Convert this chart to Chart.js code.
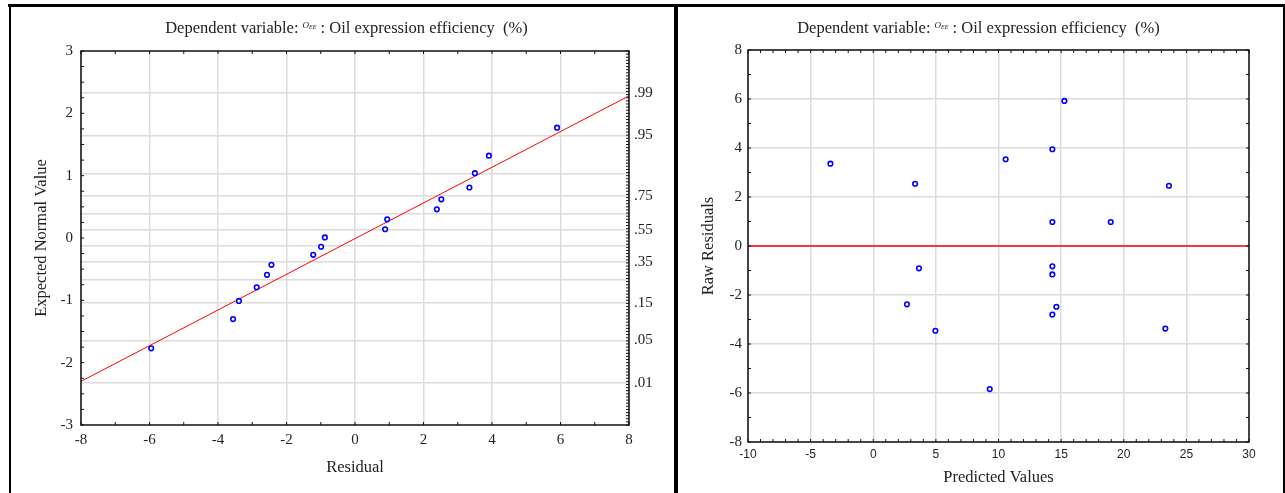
<!DOCTYPE html>
<html>
<head>
<meta charset="utf-8">
<script src="https://cdn.jsdelivr.net/npm/chart.js@4/dist/chart.umd.min.js"></script>
<style>
  body { margin: 0; background: #fff; width: 1285px; height: 493px; overflow: hidden; position: relative; }
  canvas { position: absolute; top: 0; }
  #normalChart { left: 0; }
  #residChart { left: 678px; }
  .rule { position: absolute; background: #000; }
  .title {
    position: absolute; top: 19px; height: 18px; line-height: 18px;
    font-family: 'Liberation Serif', serif; font-size: 16.5px; color: #222;
    text-align: center; white-space: nowrap;
  }
  .sym { font-size: 9px; font-style: italic; position: relative; top: -5px; }
  .sym sub { font-size: 6px; vertical-align: -1px; }
</style>
</head>
<body>
<div class="rule" style="left:8px;top:4px;width:1277px;height:3px"></div>
<div class="rule" style="left:9px;top:4px;width:2px;height:489px"></div>
<div class="rule" style="left:674px;top:4px;width:4px;height:489px"></div>
<div class="rule" style="left:1283px;top:4px;width:2px;height:489px"></div>

<canvas id="normalChart" width="678" height="493"></canvas>
<canvas id="residChart" width="607" height="493"></canvas>

<div class="title" style="left:15px;width:663px">Dependent variable: <span class="sym">O<sub>EE</sub></span> : Oil expression efficiency&nbsp; (%)</div>
<div class="title" style="left:676px;width:605px">Dependent variable: <span class="sym">O<sub>EE</sub></span> : Oil expression efficiency&nbsp; (%)</div>

<script>
// normal probability plot of residuals
const residuals = [-5.95, -3.56, -3.39, -2.87, -2.57, -2.44, -1.22, -0.99, -0.88, 0.88, 0.94, 2.39, 2.52, 3.34, 3.50, 3.91, 5.90];
const expectedNormal = [-1.77, -1.30, -1.01, -0.79, -0.59, -0.43, -0.27, -0.14, 0.01, 0.14, 0.30, 0.46, 0.62, 0.81, 1.04, 1.32, 1.77];
const fitLineX = [-8, 8];
const fitLineY = [-2.30, 2.28];

// probability axis on the right side
const probGrid = [0.01, 0.05, 0.15, 0.25, 0.35, 0.45, 0.55, 0.65, 0.75, 0.85, 0.95, 0.99];
const probLabels = ['.01', '.05', '.15', '.35', '.55', '.75', '.95', '.99'];

// raw residuals vs predicted
const predicted = [-3.42, 3.34, 10.57, 14.30, 15.26, 14.30, 18.96, 23.61, 3.65, 2.69, 4.96, 14.30, 14.30, 14.62, 14.30, 23.32, 9.30];
const rawResiduals = [3.36, 2.54, 3.54, 3.95, 5.92, 0.98, 0.98, 2.46, -0.91, -2.38, -3.46, -0.83, -1.16, -2.48, -2.80, -3.37, -5.84];
const zeroLineX = [-10, 30];

Chart.defaults.font.family = "'Liberation Serif', serif";
Chart.defaults.font.size = 15;
Chart.defaults.color = '#222';
Chart.defaults.animation = false;

// inverse standard normal cdf (Acklam)
function probit(p) {
  const a = [-39.6968302866538, 220.946098424521, -275.928510446969, 138.357751867269, -30.6647980661472, 2.50662827745924];
  const b = [-54.4760987982241, 161.585836858041, -155.698979859887, 66.8013118877197, -13.2806815528857];
  const c = [-0.00778489400243029, -0.322396458041136, -2.40075827716184, -2.54973253934373, 4.37466414146497, 2.93816398269878];
  const d = [0.00778469570904146, 0.32246712907004, 2.445134137143, 3.75440866190742];
  const lo = 0.02425;
  let q, r;
  if (p < lo) {
    q = Math.sqrt(-2 * Math.log(p));
    return (((((c[0]*q+c[1])*q+c[2])*q+c[3])*q+c[4])*q+c[5]) / ((((d[0]*q+d[1])*q+d[2])*q+d[3])*q+1);
  }
  if (p > 1 - lo) {
    q = Math.sqrt(-2 * Math.log(1 - p));
    return -(((((c[0]*q+c[1])*q+c[2])*q+c[3])*q+c[4])*q+c[5]) / ((((d[0]*q+d[1])*q+d[2])*q+d[3])*q+1);
  }
  q = p - 0.5;
  r = q * q;
  return (((((a[0]*r+a[1])*r+a[2])*r+a[3])*r+a[4])*r+a[5])*q / (((((b[0]*r+b[1])*r+b[2])*r+b[3])*r+b[4])*r+1);
}

function probText(p) {
  return '.' + String(Math.round(p * 100)).padStart(2, '0');
}

// plot frame plus small inward tick marks
const framePlugin = {
  id: 'frame',
  afterDatasetsDraw(chart, args, opts) {
    const { ctx, chartArea: a } = chart;
    ctx.save();
    ctx.strokeStyle = '#111';
    ctx.lineWidth = 1;
    ctx.beginPath();
    (opts.marks || []).forEach(m => {
      const scale = chart.scales[m.scale];
      const n = Math.round((m.to - m.from) / m.step);
      for (let i = 0; i <= n; i++) {
        const p = scale.getPixelForValue(m.from + i * m.step);
        if (m.side === 'left') { ctx.moveTo(a.left, p); ctx.lineTo(a.left + m.len, p); }
        if (m.side === 'right') { ctx.moveTo(a.right, p); ctx.lineTo(a.right - m.len, p); }
        if (m.side === 'top') { ctx.moveTo(p, a.top); ctx.lineTo(p, a.top + m.len); }
        if (m.side === 'bottom') { ctx.moveTo(p, a.bottom); ctx.lineTo(p, a.bottom - m.len); }
      }
    });
    ctx.stroke();
    ctx.lineWidth = 1.5;
    ctx.strokeRect(a.left, a.top, a.right - a.left, a.bottom - a.top);
    ctx.restore();
  }
};

const gridStyle = { color: '#dcdcdc', lineWidth: 1.5, drawTicks: false };
const axisTitleFont = { size: 16.5 };
const pointStyle = {
  pointRadius: 2.3, pointBorderWidth: 1.6,
  pointBorderColor: '#0000ff', pointBackgroundColor: '#fff',
  showLine: false
};

new Chart(document.getElementById('normalChart'), {
  type: 'scatter',
  data: {
    datasets: [
      {
        data: residuals.map((r, i) => ({ x: r, y: expectedNormal[i] })),
        ...pointStyle,
        order: 1
      },
      {
        data: fitLineX.map((x, i) => ({ x: x, y: fitLineY[i] })),
        showLine: true, borderColor: '#ff0000', borderWidth: 1,
        pointRadius: 0, order: 2
      }
    ]
  },
  options: {
    responsive: false,
    layout: { padding: { top: 51, left: 0, right: 0, bottom: 0 } },
    plugins: {
      legend: { display: false },
      tooltip: { enabled: false },
      frame: {
        marks: [
          { scale: 'y', side: 'left', from: -3, to: 3, step: 0.25, len: 3 },
          { scale: 'x', side: 'bottom', from: -8, to: 8, step: 1, len: 3 },
          { scale: 'x', side: 'top', from: -8, to: 8, step: 1, len: 3 },
          { scale: 'y2', side: 'right', from: -3, to: 3, step: 0.05, len: 3 }
        ]
      }
    },
    scales: {
      x: {
        type: 'linear', min: -8, max: 8,
        ticks: { stepSize: 2, padding: 6 },
        grid: gridStyle,
        border: { display: false },
        title: { display: true, text: 'Residual', font: axisTitleFont, padding: { top: 0, bottom: 15 } },
        afterFit: s => { s.height = 68; }
      },
      y: {
        type: 'linear', min: -3, max: 3,
        ticks: { stepSize: 1, padding: 8 },
        grid: { display: false, drawTicks: false },
        border: { display: false },
        title: { display: true, text: 'Expected Normal Value', font: axisTitleFont, padding: { top: 32, bottom: 0 } },
        afterFit: s => { s.width = 81; }
      },
      y2: {
        type: 'linear', position: 'right', min: -3, max: 3,
        afterBuildTicks: s => { s.ticks = probGrid.map(p => ({ value: probit(p) })); },
        ticks: {
          autoSkip: false, padding: 5,
          callback: (v, i) => {
            const t = probText(probGrid[i]);
            return probLabels.includes(t) ? t : '';
          }
        },
        grid: gridStyle,
        border: { display: false },
        afterFit: s => { s.width = 49; }
      }
    }
  },
  plugins: [framePlugin]
});

new Chart(document.getElementById('residChart'), {
  type: 'scatter',
  data: {
    datasets: [
      {
        data: predicted.map((p, i) => ({ x: p, y: rawResiduals[i] })),
        ...pointStyle,
        order: 1
      },
      {
        data: zeroLineX.map(x => ({ x: x, y: 0 })),
        showLine: true, borderColor: '#ff0000', borderWidth: 1.3,
        pointRadius: 0, order: 2
      }
    ]
  },
  options: {
    responsive: false,
    layout: { padding: { top: 50, left: 0, right: 36, bottom: 0 } },
    plugins: {
      legend: { display: false },
      tooltip: { enabled: false },
      frame: {
        marks: [
          { scale: 'y', side: 'left', from: -8, to: 8, step: 1, len: 3 },
          { scale: 'y', side: 'right', from: -8, to: 8, step: 1, len: 3 },
          { scale: 'x', side: 'bottom', from: -10, to: 30, step: 1, len: 3 },
          { scale: 'x', side: 'top', from: -10, to: 30, step: 1, len: 3 }
        ]
      }
    },
    scales: {
      x: {
        type: 'linear', min: -10, max: 30,
        ticks: { stepSize: 5, padding: 5, font: { family: "'Liberation Sans', sans-serif", size: 12 } },
        grid: gridStyle,
        border: { display: false },
        title: { display: true, text: 'Predicted Values', font: axisTitleFont, padding: { top: 0, bottom: 5 } },
        afterFit: s => { s.height = 51; }
      },
      y: {
        type: 'linear', min: -8, max: 8,
        ticks: { stepSize: 2, padding: 6 },
        grid: gridStyle,
        border: { display: false },
        title: { display: true, text: 'Raw Residuals', font: axisTitleFont, padding: { top: 21, bottom: 0 } },
        afterFit: s => { s.width = 70; }
      }
    }
  },
  plugins: [framePlugin]
});
</script>
</body>
</html>
